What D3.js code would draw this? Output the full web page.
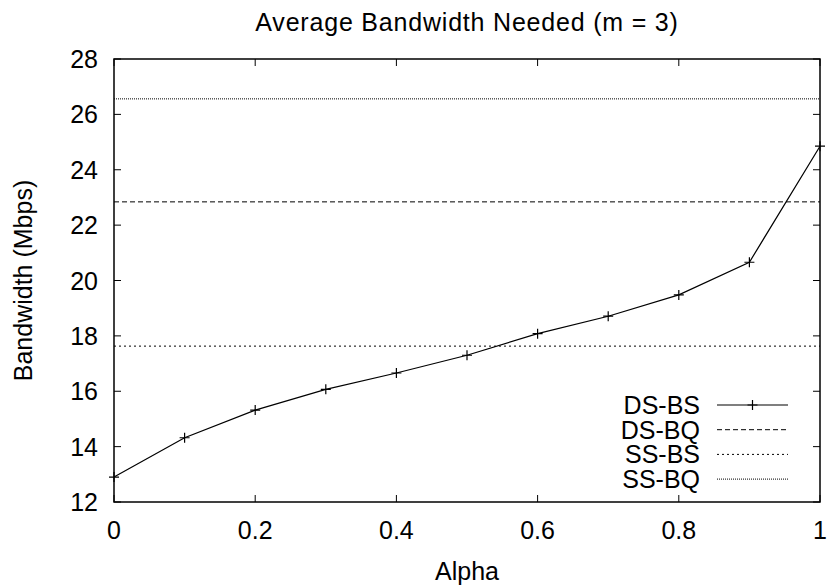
<!DOCTYPE html>
<html>
<head>
<meta charset="utf-8">
<script src="https://cdn.jsdelivr.net/npm/d3@7"></script>
<style>
  body { margin: 0; background: #fff; }
  text { font-family: "Liberation Sans", Arial, sans-serif; fill: #000; }
</style>
</head>
<body>
<script>
// data
var alphas = [0, 0.1, 0.2, 0.3, 0.4, 0.5, 0.6, 0.7, 0.8, 0.9, 1];
var dsBs = [12.9, 14.32, 15.32, 16.07, 16.66, 17.3, 18.08, 18.71, 19.48, 20.66, 24.85];
var dsBq = 22.84;
var ssBs = 17.63;
var ssBq = 26.56;
var xTicks = [0, 0.2, 0.4, 0.6, 0.8, 1];
var yTicks = [12, 14, 16, 18, 20, 22, 24, 26, 28];

var W = 828, H = 587;
var margin = {top: 59, right: 8, bottom: 85, left: 114},
    width = W - margin.left - margin.right,
    height = H - margin.top - margin.bottom;
var fs = "25px";

var svg = d3.select("body").append("svg")
    .attr("width", W)
    .attr("height", H);

var x = d3.scaleLinear().domain([0, 1]).range([0, width]),
    y = d3.scaleLinear().domain([12, 28]).range([height, 0]);

var g = svg.append("g")
    .attr("transform", "translate(" + margin.left + "," + margin.top + ")");

// ticks (gnuplot style: inward, mirrored)
var tl = 7;
xTicks.forEach(function(t) {
  g.append("line").attr("x1", x(t)).attr("x2", x(t)).attr("y1", height).attr("y2", height - tl)
    .attr("stroke", "#000");
  g.append("line").attr("x1", x(t)).attr("x2", x(t)).attr("y1", 0).attr("y2", tl)
    .attr("stroke", "#000");
  g.append("text").attr("x", x(t)).attr("y", height + 37)
    .style("text-anchor", "middle").style("font-size", fs).text(t);
});
yTicks.forEach(function(t) {
  g.append("line").attr("x1", 0).attr("x2", tl).attr("y1", y(t)).attr("y2", y(t))
    .attr("stroke", "#000");
  g.append("line").attr("x1", width).attr("x2", width - tl).attr("y1", y(t)).attr("y2", y(t))
    .attr("stroke", "#000");
  g.append("text").attr("x", -16).attr("y", y(t)).attr("dy", "0.36em")
    .style("text-anchor", "end").style("font-size", fs).text(t);
});

// horizontal reference lines
var hlines = [
  {name: "DS-BQ", v: dsBq, dash: "5,3"},
  {name: "SS-BS", v: ssBs, dash: "2,3"},
  {name: "SS-BQ", v: ssBq, dash: "1,1"}
];
hlines.forEach(function(h) {
  g.append("line").attr("x1", 0).attr("x2", width)
    .attr("y1", y(h.v)).attr("y2", y(h.v))
    .attr("stroke", "#000").attr("stroke-width", 1)
    .attr("stroke-dasharray", h.dash);
});

// DS-BS line with + markers
var pts = alphas.map(function(a, i) { return [a, dsBs[i]]; });
g.append("path")
    .datum(pts)
    .attr("fill", "none")
    .attr("stroke", "#000")
    .attr("stroke-width", 1.2)
    .attr("d", d3.line().x(function(d) { return x(d[0]); }).y(function(d) { return y(d[1]); }));

function plus(sel, cx, cy) {
  sel.append("path")
    .attr("d", "M" + (cx - 5) + "," + cy + "H" + (cx + 5) + "M" + cx + "," + (cy - 5) + "V" + (cy + 5))
    .attr("stroke", "#000").attr("stroke-width", 1.2);
}
pts.forEach(function(d) { plus(g, x(d[0]), y(d[1])); });

// legend
var legend = [
  {name: "DS-BS", dash: null},
  {name: "DS-BQ", dash: "5,3"},
  {name: "SS-BS", dash: "2,3"},
  {name: "SS-BQ", dash: "1,1"}
];
legend.forEach(function(l, i) {
  var ly = 346 + i * 24.7;
  g.append("text").attr("x", 586).attr("y", ly).attr("dy", "0.36em")
    .style("text-anchor", "end").style("font-size", fs).text(l.name);
  var ln = g.append("line").attr("x1", 603).attr("x2", 674).attr("y1", ly).attr("y2", ly)
    .attr("stroke", "#000").attr("stroke-width", l.dash ? 1 : 1.2);
  if (l.dash) ln.attr("stroke-dasharray", l.dash);
  else plus(g, 638.5, ly);
});

// frame
g.append("rect").attr("width", width).attr("height", height)
    .attr("fill", "none").attr("stroke", "#000").attr("stroke-width", 1.5);

// labels
svg.append("text")
    .attr("x", margin.left + width / 2).attr("y", 31)
    .style("text-anchor", "middle").style("font-size", fs)
    .style("letter-spacing", "0.8px")
    .text("Average Bandwidth Needed (m = 3)");

svg.append("text")
    .attr("x", margin.left + width / 2).attr("y", 580)
    .style("text-anchor", "middle").style("font-size", fs)
    .text("Alpha");

svg.append("text")
    .attr("transform", "translate(32," + (margin.top + height / 2) + ") rotate(-90)")
    .style("text-anchor", "middle").style("font-size", fs)
    .text("Bandwidth (Mbps)");
</script>
</body>
</html>
